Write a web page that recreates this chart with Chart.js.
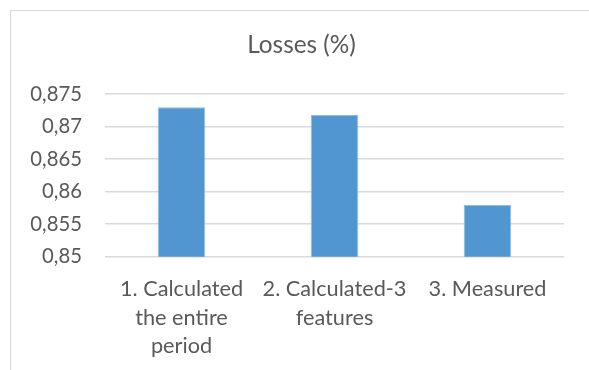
<!DOCTYPE html>
<html>
<head>
<meta charset="utf-8">
<script src="https://cdn.jsdelivr.net/npm/chart.js@4"></script>
<style>
  html, body { margin: 0; padding: 0; background: #fff; overflow: hidden; }
  #frame { position: absolute; left: 10px; top: 10px; width: 700px; height: 500px;
           border: 1.5px solid #d9d9d9; box-sizing: border-box; }
  #wrap { position: absolute; left: 0; top: 0; width: 589px; height: 370px; }
</style>
</head>
<body>
<div id="frame"></div>
<div id="wrap"><canvas id="c" width="589" height="370"></canvas></div>
<script>
const titleText = 'Losses (%)';
const categories = [
  ['1. Calculated', 'the entire', 'period'],
  ['2. Calculated-3', 'features'],
  ['3. Measured']
];
const lossValues = [0.873, 0.8718, 0.858];
const yTickValues = [0.85, 0.855, 0.86, 0.865, 0.87, 0.875];
const yTickLabels = ['0,85', '0,855', '0,86', '0,865', '0,87', '0,875'];

const FAMILY = 'Lato, "Open Sans", sans-serif';
function fitSize(text, targetWidth) {
  const ctx = document.createElement('canvas').getContext('2d');
  ctx.font = '100px ' + FAMILY;
  return 100 * targetWidth / ctx.measureText(text).width;
}
const tickSize = fitSize('0,875', 51.7);
const titleSize = fitSize('Losses (%)', 108.7);
const catSize = fitSize('2. Calculated-3', 144);

const textColor = '#595959';

// shift the title box so it is centred like the original chart frame
const titleShift = {
  id: 'titleShift',
  afterLayout(chart) {
    const t = chart.titleBlock;
    if (t) { t.left += 13; }
  }
};

new Chart(document.getElementById('c'), {
  type: 'bar',
  data: {
    labels: categories,
    datasets: [{
      data: lossValues,
      backgroundColor: '#5296d1',
      borderColor: '#8fbce4',
      borderWidth: 1,
      categoryPercentage: 1,
      barPercentage: 0.311
    }]
  },
  plugins: [titleShift],
  options: {
    responsive: false,
    animation: false,
    layout: { padding: { left: 26, right: 25, top: 0, bottom: 0 } },
    plugins: {
      legend: { display: false },
      tooltip: { enabled: false },
      title: {
        display: true,
        text: titleText,
        color: textColor,
        font: { family: FAMILY, size: titleSize, weight: 'normal' },
        padding: { top: 31, bottom: 34 }
      }
    },
    scales: {
      x: {
        grid: { display: false },
        border: { display: false },
        ticks: {
          color: textColor,
          font: { family: FAMILY, size: catSize, lineHeight: 28.7 / catSize },
          padding: 10,
          maxRotation: 0,
          autoSkip: false
        },
        afterFit: (s) => { s.height = 113.3; }
      },
      y: {
        min: 0.85,
        max: 0.875,
        border: { display: false },
        grid: { color: '#d9d9d9', lineWidth: 1.6, drawTicks: false },
        afterBuildTicks: (s) => { s.ticks = yTickValues.map(v => ({ value: v })); },
        ticks: {
          color: textColor,
          font: { family: FAMILY, size: tickSize },
          padding: 23,
          callback: (v, i) => yTickLabels[i]
        },
        afterFit: (s) => { s.width = 79; }
      }
    }
  }
});
</script>
</body>
</html>
